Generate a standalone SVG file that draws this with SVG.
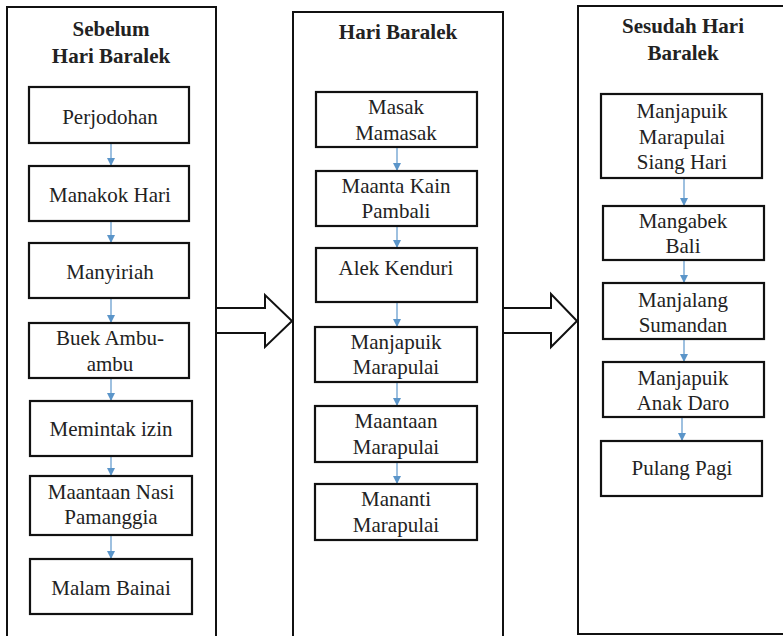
<svg xmlns="http://www.w3.org/2000/svg" width="783" height="636" viewBox="0 0 783 636" font-family="Liberation Serif, Times New Roman, DejaVu Serif, serif">
<defs>
<style>
.col{fill:#fff;stroke:#111;stroke-width:2}
.box{fill:#fff;stroke:#111;stroke-width:2.2}
.t{font-size:21px;fill:#222;text-anchor:middle}
.h{font-size:21px;font-weight:bold;fill:#222;text-anchor:middle}
.c{stroke:#6a9fcf;stroke-width:1.3;fill:none;marker-end:url(#ah)}
.blk{fill:#fff;stroke:#111;stroke-width:2;stroke-linejoin:miter}
</style>
<marker id="ah" markerUnits="userSpaceOnUse" markerWidth="8" markerHeight="8" refX="8" refY="4" orient="auto" viewBox="0 0 8 8">
<path d="M0,0 L8,4 L0,8 Z" fill="#5b95c9"/>
</marker>
</defs>
<rect width="783" height="636" fill="#fff"/>

<g id="col-sebelum">
<rect class="col" x="7" y="7" width="209" height="640"/>
<text class="h" x="111" y="36" font-family="Liberation Serif">Sebelum</text>
<text class="h" x="111" y="63" font-family="Liberation Serif">Hari Baralek</text>
</g>
<g id="col-hari">
<rect class="col" x="293" y="12" width="210" height="640"/>
<text class="h" x="398" y="39" font-family="Liberation Serif">Hari Baralek</text>
</g>
<g id="col-sesudah">
<rect class="col" x="578" y="6" width="220" height="628"/>
<text class="h" x="683" y="33" font-family="Liberation Serif">Sesudah Hari</text>
<text class="h" x="683" y="60" font-family="Liberation Serif">Baralek</text>
</g>

<g id="block-arrows">
<polygon class="blk" points="216,308 265,308 265,295 292,321 265,347 265,333 216,333"/>
<polygon class="blk" points="503,308 551,308 551,294 577,321 551,347 551,333 503,333"/>
</g>

<g id="connectors">
<line class="c" x1="111" y1="143" x2="111" y2="166"/>
<line class="c" x1="111" y1="221" x2="111" y2="243"/>
<line class="c" x1="111" y1="298" x2="111" y2="323"/>
<line class="c" x1="111" y1="378" x2="111" y2="401"/>
<line class="c" x1="111" y1="456" x2="111" y2="476"/>
<line class="c" x1="111" y1="535" x2="111" y2="559"/>
<line class="c" x1="397" y1="147" x2="397" y2="171"/>
<line class="c" x1="397" y1="226" x2="397" y2="248"/>
<line class="c" x1="397" y1="302" x2="397" y2="327"/>
<line class="c" x1="397" y1="382" x2="397" y2="406"/>
<line class="c" x1="397" y1="462" x2="397" y2="484"/>
<line class="c" x1="684" y1="178" x2="684" y2="206"/>
<line class="c" x1="684" y1="260" x2="684" y2="283"/>
<line class="c" x1="684" y1="339" x2="684" y2="362"/>
<line class="c" x1="682" y1="417" x2="682" y2="441"/>
</g>

<g id="perjodohan"><rect class="box" x="29" y="87" width="160" height="56"/><text class="t" x="110" y="124">Perjodohan</text></g>
<g id="manakok-hari"><rect class="box" x="29" y="166" width="160" height="55"/><text class="t" x="110" y="202">Manakok Hari</text></g>
<g id="manyiriah"><rect class="box" x="29" y="243" width="160" height="55"/><text class="t" x="110" y="279">Manyiriah</text></g>
<g id="buek-ambu"><rect class="box" x="29" y="323" width="160" height="55"/><text class="t" x="110" y="345">Buek Ambu-</text><text class="t" x="110" y="371">ambu</text></g>
<g id="memintak-izin"><rect class="box" x="30" y="401" width="162" height="55"/><text class="t" x="111" y="436">Memintak izin</text></g>
<g id="maantaan-nasi"><rect class="box" x="30" y="476" width="162" height="59"/><text class="t" x="111" y="499">Maantaan Nasi</text><text class="t" x="111" y="524">Pamanggia</text></g>
<g id="malam-bainai"><rect class="box" x="30" y="559" width="162" height="55"/><text class="t" x="111" y="595">Malam Bainai</text></g>

<g id="masak-mamasak"><rect class="box" x="316" y="92" width="161" height="55"/><text class="t" x="396" y="114">Masak</text><text class="t" x="396" y="140">Mamasak</text></g>
<g id="maanta-kain"><rect class="box" x="316" y="171" width="161" height="55"/><text class="t" x="396" y="193">Maanta Kain</text><text class="t" x="396" y="218">Pambali</text></g>
<g id="alek-kenduri"><rect class="box" x="316" y="248" width="161" height="54"/><text class="t" x="396" y="275">Alek Kenduri</text></g>
<g id="manjapuik-marapulai"><rect class="box" x="315" y="327" width="162" height="55"/><text class="t" x="396" y="349">Manjapuik</text><text class="t" x="396" y="374">Marapulai</text></g>
<g id="maantaan-marapulai"><rect class="box" x="315" y="406" width="162" height="56"/><text class="t" x="396" y="428">Maantaan</text><text class="t" x="396" y="454">Marapulai</text></g>
<g id="mananti-marapulai"><rect class="box" x="315" y="484" width="162" height="56"/><text class="t" x="396" y="506">Mananti</text><text class="t" x="396" y="532">Marapulai</text></g>

<g id="manjapuik-siang"><rect class="box" x="601" y="94" width="161" height="84"/><text class="t" x="682" y="118">Manjapuik</text><text class="t" x="682" y="144">Marapulai</text><text class="t" x="682" y="169">Siang Hari</text></g>
<g id="mangabek-bali"><rect class="box" x="603" y="206" width="161" height="54"/><text class="t" x="683" y="228">Mangabek</text><text class="t" x="683" y="253">Bali</text></g>
<g id="manjalang-sumandan"><rect class="box" x="603" y="283" width="161" height="56"/><text class="t" x="683" y="307">Manjalang</text><text class="t" x="683" y="332">Sumandan</text></g>
<g id="manjapuik-anak-daro"><rect class="box" x="603" y="362" width="161" height="55"/><text class="t" x="683" y="385">Manjapuik</text><text class="t" x="683" y="410">Anak Daro</text></g>
<g id="pulang-pagi"><rect class="box" x="601" y="441" width="161" height="55"/><text class="t" x="682" y="475">Pulang Pagi</text></g>
</svg>
